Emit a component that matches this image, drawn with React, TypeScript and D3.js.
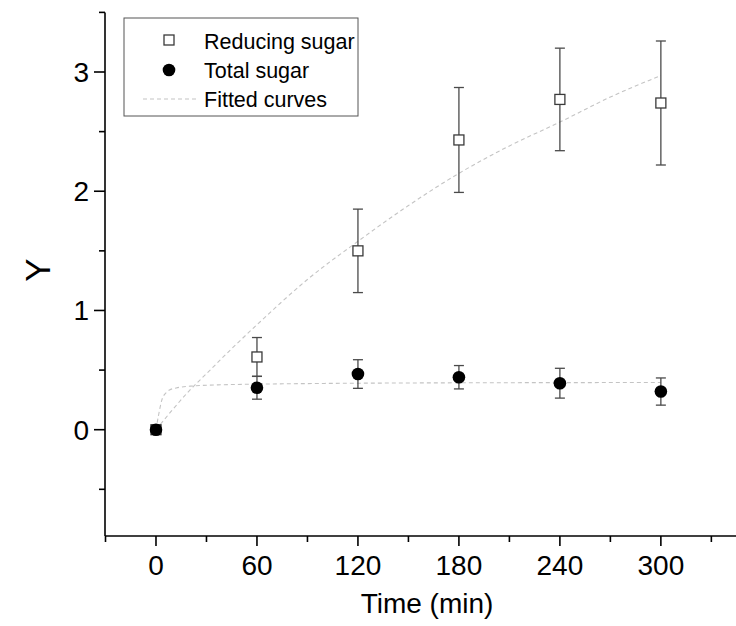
import React from "react";
import * as d3 from "d3";

const times = [0, 60, 120, 180, 240, 300];
const reducingSugar = [0, 0.61, 1.5, 2.43, 2.77, 2.74];
const reducingErr = [0, 0.163, 0.35, 0.44, 0.43, 0.52];
const totalSugar = [0, 0.352, 0.467, 0.44, 0.39, 0.32];
const totalErr = [0, 0.096, 0.12, 0.098, 0.125, 0.114];

const fitReducingT = [0, 10, 20, 30, 45, 60, 90, 120, 150, 180, 210, 240, 270, 300];
const fitReducingY = [0, 0.17, 0.33, 0.47, 0.68, 0.88, 1.26, 1.58, 1.88, 2.15, 2.38, 2.58, 2.79, 2.97];
const fitTotalT = [0, 1.5, 3.5, 6, 8, 12, 22, 40, 60, 100, 150, 200, 250, 300];
const fitTotalY = [0, 0.12, 0.25, 0.31, 0.333, 0.35, 0.367, 0.377, 0.382, 0.388, 0.392, 0.394, 0.395, 0.396];

const xMajor = [0, 60, 120, 180, 240, 300];
const xMinor = [-30, 30, 90, 150, 210, 270, 330];
const yMajor = [0, 1, 2, 3];
const yMinor = [-0.5, 0.5, 1.5, 2.5, 3.5];

const legendLabels = ["Reducing sugar", "Total sugar", "Fitted curves"];
const xTitle = "Time (min)";
const yTitle = "Y";

const W = 736;
const H = 626;
const FONT = "'Liberation Sans', Arial, sans-serif";

export default function App() {
  const x = d3.scaleLinear().domain([-30, 345]).range([105.5, 736.6]);
  const y = d3.scaleLinear().domain([0, 3]).range([429.7, 72]);
  const axisX = 105;
  const axisY = 536;
  const yTop = y(3.5);

  const line = d3
    .line<[number, number]>()
    .x((d) => x(d[0]))
    .y((d) => y(d[1]))
    .curve(d3.curveMonotoneX);

  const fitR = line(fitReducingT.map((t, i) => [t, fitReducingY[i]] as [number, number])) || "";
  const fitT = line(fitTotalT.map((t, i) => [t, fitTotalY[i]] as [number, number])) || "";

  const errColor = "#4a4a4a";
  const cap = 5;

  const errBar = (t: number, v: number, e: number, key: string) => {
    if (e <= 0) return null;
    const cx = x(t);
    return (
      <g key={key} stroke={errColor} strokeWidth={1.3}>
        <line x1={cx} x2={cx} y1={y(v + e)} y2={y(v - e)} />
        <line x1={cx - cap} x2={cx + cap} y1={y(v + e)} y2={y(v + e)} />
        <line x1={cx - cap} x2={cx + cap} y1={y(v - e)} y2={y(v - e)} />
      </g>
    );
  };

  return (
    <svg
      width={W}
      height={H}
      style={{ position: "absolute", left: 0, top: 0, background: "#fff" }}
      fontFamily={FONT}
    >
      <rect x={0} y={0} width={W} height={H} fill="#fff" />

      {/* fitted curves */}
      <path d={fitR} fill="none" stroke="#c4c4c4" strokeWidth={1.1} strokeDasharray="4,3" />
      <path d={fitT} fill="none" stroke="#c4c4c4" strokeWidth={1.1} strokeDasharray="4,3" />

      {/* reducing sugar */}
      {times.map((t, i) => errBar(t, reducingSugar[i], reducingErr[i], "re" + i))}
      {times.map((t, i) => (
        <rect
          key={"rs" + i}
          x={x(t) - 5}
          y={y(reducingSugar[i]) - 5}
          width={10}
          height={10}
          fill="#fff"
          stroke="#3a3a3a"
          strokeWidth={1.3}
        />
      ))}

      {/* total sugar */}
      {times.map((t, i) => errBar(t, totalSugar[i], totalErr[i], "te" + i))}
      {times.map((t, i) => (
        <circle key={"ts" + i} cx={x(t)} cy={y(totalSugar[i])} r={6.3} fill="#000" />
      ))}

      {/* axes */}
      <g stroke="#000" strokeWidth={1.6}>
        <line x1={axisX} x2={axisX} y1={yTop} y2={axisY} />
        <line x1={axisX} x2={W} y1={axisY} y2={axisY} />
        {yMajor.map((v) => (
          <line key={"ym" + v} x1={axisX - 11} x2={axisX} y1={y(v)} y2={y(v)} />
        ))}
        {yMinor.map((v) => (
          <line key={"yn" + v} x1={axisX - 6} x2={axisX} y1={y(v)} y2={y(v)} />
        ))}
        {xMajor.map((v) => (
          <line key={"xm" + v} x1={x(v)} x2={x(v)} y1={axisY} y2={axisY + 10} />
        ))}
        {xMinor.map((v) => (
          <line key={"xn" + v} x1={x(v)} x2={x(v)} y1={axisY} y2={axisY + 6} />
        ))}
      </g>

      {yMajor.map((v) => (
        <text key={"yl" + v} x={89} y={y(v) + 10} textAnchor="end" fontSize={28} fill="#000">
          {v}
        </text>
      ))}
      {xMajor.map((v) => (
        <text key={"xl" + v} x={x(v)} y={575} textAnchor="middle" fontSize={28} fill="#000">
          {v}
        </text>
      ))}

      <text x={427} y={613} textAnchor="middle" fontSize={28} fill="#000">
        {xTitle}
      </text>
      <text
        transform={`translate(50,270) rotate(-90)`}
        textAnchor="middle"
        fontSize={35}
        fill="#000"
      >
        {yTitle}
      </text>

      {/* legend */}
      <rect x={124} y={18} width={234} height={98} fill="#fff" stroke="#555" strokeWidth={1} />
      <rect x={164} y={35} width={10} height={10} fill="#fff" stroke="#3a3a3a" strokeWidth={1.3} />
      <circle cx={169} cy={70} r={6.3} fill="#000" />
      <line x1={143} x2={197} y1={99} y2={99} stroke="#c4c4c4" strokeWidth={1.1} strokeDasharray="4,3" />
      {legendLabels.map((l, i) => (
        <text key={l} x={204} y={48.5 + i * 29} fontSize={21.5} fill="#000">
          {l}
        </text>
      ))}
    </svg>
  );
}
